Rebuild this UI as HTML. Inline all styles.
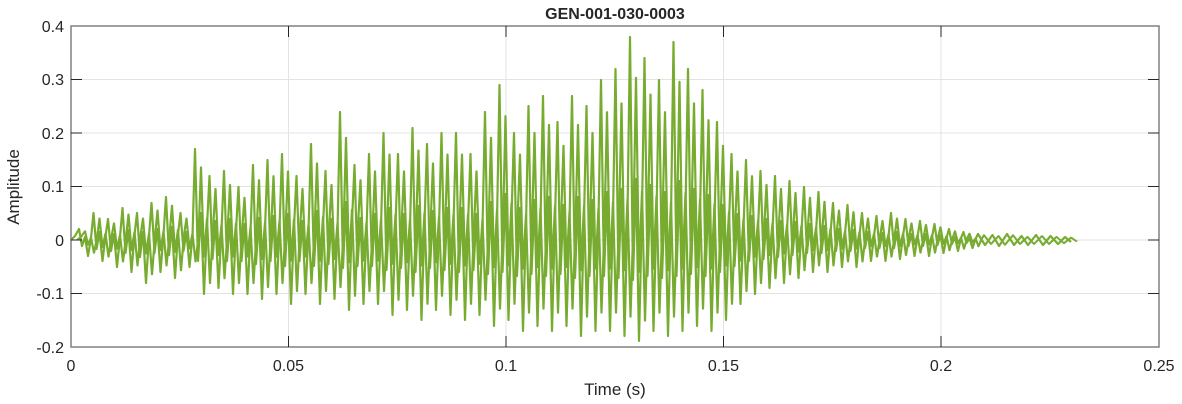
<!DOCTYPE html>
<html><head><meta charset="utf-8"><style>
html,body{margin:0;padding:0;background:#fff;width:1182px;height:404px;overflow:hidden}
svg{display:block;font-family:"Liberation Sans",Arial,sans-serif}
</style></head><body>
<svg width="1182" height="404" xmlns="http://www.w3.org/2000/svg">
<rect x="71" y="26" width="1088" height="321" fill="#fff"/>
<g stroke="#e3e3e3" stroke-width="1">
<line x1="288.5" y1="26" x2="288.5" y2="347"/><line x1="506" y1="26" x2="506" y2="347"/>
<line x1="723.5" y1="26" x2="723.5" y2="347"/><line x1="941" y1="26" x2="941" y2="347"/>
<line x1="71" y1="79.5" x2="1159" y2="79.5"/><line x1="71" y1="133" x2="1159" y2="133"/>
<line x1="71" y1="186.5" x2="1159" y2="186.5"/><line x1="71" y1="240" x2="1159" y2="240"/>
<line x1="71" y1="293.5" x2="1159" y2="293.5"/>
</g>
<defs>
<path id="wv" fill="none" stroke="#77AC30" stroke-width="2.2" stroke-linejoin="round" d="M71,240 L75,236 79,229 82,246 85,237 88,256 91,238
93.5,213 96.5,249 99.5,232 102.5,261 105.5,236
108,219 111,251 114,234 117,267 120,237
122.5,208 125.5,253 128.5,230 131.5,272 134.5,235
137,213 140,257 143,232 146,283 149,236
151.5,203 154.5,253 157.5,229 160.5,272 163.5,234
166,197 169,255 172,227 175,278 178,234
180.5,213 183.5,251 186.5,232 189.5,267 192.5,236
195,149 198,261 201,213 204,294 207,226
209.5,176 212.5,259 215.5,221 218.5,288 221.5,230
224,171 227,261 230,219 233,294 236,230
238.5,187 241.5,261 244.5,224 247.5,294 250.5,232
253,165 256,264 259,218 262,299 265,229
267.5,160 270.5,261 273.5,216 276.5,294 279.5,228
282,154 285,266 288,214 291,304 294,227
296.5,176 299.5,261 302.5,221 305.5,294 308.5,230
311,144 314,266 317,211 320,304 323,226
325.5,171 328.5,264 331.5,219 334.5,299 337.5,230
340,112 343,268 346,202 349,310 352,221
354.5,165 357.5,266 360.5,218 363.5,304 366.5,229
369,154 372,266 375,214 378,304 381,227
383.5,133 386.5,270 389.5,208 392.5,315 395.5,224
398,154 401,268 404,214 407,310 410,227
412.5,128 415.5,272 418.5,206 421.5,320 424.5,223
427,144 430,268 433,211 436,310 439,226
441.5,133 444.5,270 447.5,208 450.5,315 453.5,224
456,133 459,272 462,208 465,320 468,224
470.5,154 473.5,270 476.5,214 479.5,315 482.5,227
485,112 488,274 491,202 494,326 497,221
499.5,85 502.5,272 505.5,194 508.5,320 511.5,217
514,133 517,276 520,208 523,331 526,224
528.5,106 531.5,274 534.5,200 537.5,326 540.5,220
543,96 546,276 549,197 552,331 555,218
557.5,122 560.5,274 563.5,205 566.5,326 569.5,222
572,96 575,278 578,197 581,336 584,218
586.5,106 589.5,276 592.5,200 595.5,331 598.5,220
601,80 604,276 607,192 610,331 613,216
615.5,69 618.5,278 621.5,189 624.5,336 627.5,214
630,37 633,280 636,179 639,341 642,210
644.5,58 647.5,276 650.5,185 653.5,331 656.5,213
659,80 662,278 665,192 668,336 671,216
673.5,42 676.5,276 679.5,181 682.5,331 685.5,210
688,69 691,274 694,189 697,326 700,214
702.5,90 705.5,276 708.5,195 711.5,331 714.5,218
717,122 720,272 723,205 726,320 729,222
731.5,154 734.5,266 737.5,214 740.5,304 743.5,227
746,160 749,261 752,216 755,294 758,228
760.5,171 763.5,259 766.5,219 769.5,288 772.5,230
775,176 778,257 781,221 784,283 787,230
789.5,181 792.5,255 795.5,222 798.5,278 801.5,231
804,187 807,253 810,224 813,272 816,232
818.5,192 821.5,253 824.5,226 827.5,272 830.5,233
833,203 836,251 839,229 842,267 845,234
847.5,205 850.5,251 853.5,230 856.5,267 859.5,235
862,213 865,248 868,232 871,261 874,236
876.5,216 879.5,248 882.5,233 885.5,261 888.5,236
891,213 894,248 897,232 900,259 903,236
905.5,219 908.5,246 911.5,234 914.5,256 917.5,237
920,221 923,246 926,234 929,256 932,237
934.5,224 937.5,245 940.5,235 943.5,253 946.5,238
949,229 952,244 955,237 958,251 961,238
963.5,232 966.5,243 969.5,238 972.5,248 975.5,239
978,234 985,245 992.5,235 999,246 1007,234 1014,245 1021.5,236 1028,245 1036,235 1043,245 1050.5,236 1058,244 1065,237 1071,242"/>
</defs>
<use href="#wv"/>
<use href="#wv" transform="translate(6,48) scale(1,0.8)"/>
<rect x="71" y="26" width="1088" height="321" fill="none" stroke="#808080" stroke-width="1.5"/>
<g stroke="#262626" stroke-width="1">
<line x1="71" y1="79.5" x2="82" y2="79.5"/><line x1="71" y1="133" x2="82" y2="133"/>
<line x1="71" y1="186.5" x2="82" y2="186.5"/><line x1="71" y1="240" x2="82" y2="240"/>
<line x1="71" y1="293.5" x2="82" y2="293.5"/>
<line x1="1159" y1="79.5" x2="1148" y2="79.5"/><line x1="1159" y1="133" x2="1148" y2="133"/>
<line x1="1159" y1="186.5" x2="1148" y2="186.5"/><line x1="1159" y1="240" x2="1148" y2="240"/>
<line x1="1159" y1="293.5" x2="1148" y2="293.5"/>
<line x1="288.5" y1="347" x2="288.5" y2="336"/><line x1="506" y1="347" x2="506" y2="336"/>
<line x1="723.5" y1="347" x2="723.5" y2="336"/><line x1="941" y1="347" x2="941" y2="336"/>
<line x1="288.5" y1="26" x2="288.5" y2="37"/><line x1="506" y1="26" x2="506" y2="37"/>
<line x1="723.5" y1="26" x2="723.5" y2="37"/><line x1="941" y1="26" x2="941" y2="37"/>
</g>
<g fill="#262626" font-size="16" text-anchor="end">
<text x="64" y="32">0.4</text><text x="64" y="85">0.3</text><text x="64" y="139">0.2</text>
<text x="64" y="192">0.1</text><text x="64" y="246">0</text><text x="64" y="299">-0.1</text>
<text x="64" y="353">-0.2</text>
</g>
<g fill="#262626" font-size="16" text-anchor="middle">
<text x="71" y="371">0</text><text x="288.5" y="371">0.05</text><text x="506" y="371">0.1</text>
<text x="723.5" y="371">0.15</text><text x="941" y="371">0.2</text><text x="1159" y="371">0.25</text>
<text x="615" y="395" font-size="17">Time (s)</text>
<text x="615" y="19" font-size="16" font-weight="bold">GEN-001-030-0003</text>
<text transform="translate(19,187) rotate(-90)" font-size="17">Amplitude</text>
</g>
</svg>
</body></html>
